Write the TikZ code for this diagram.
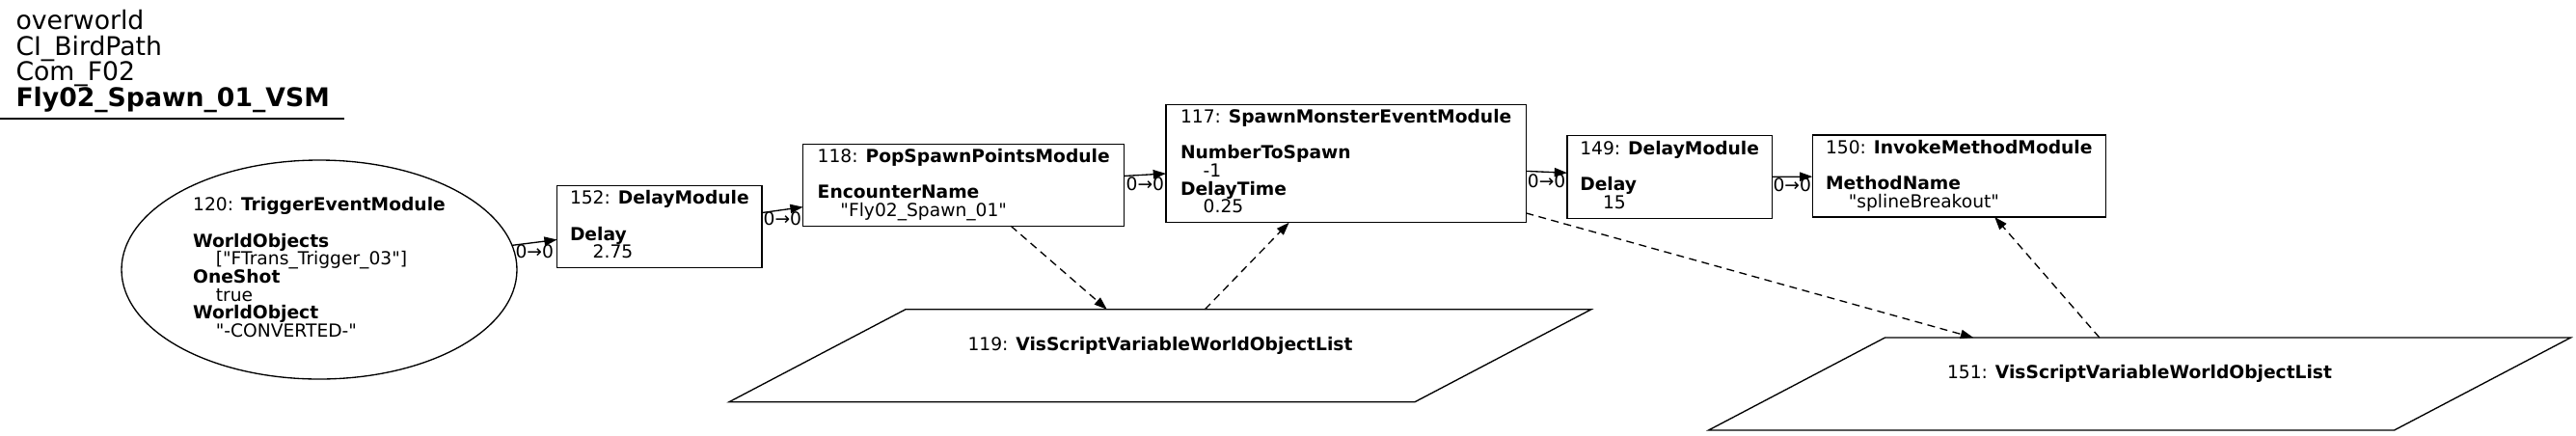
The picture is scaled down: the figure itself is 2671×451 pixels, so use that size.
\documentclass[tikz,border=0pt]{standalone}
\usepackage{fontspec}
\setmainfont{DejaVu Sans}
\usetikzlibrary{shapes.geometric,arrows.meta}
\newcommand\gs{\rule[-4.87pt]{0pt}{18.67pt}}
\newcommand\gtt{\rule[-7pt]{0pt}{26.67pt}}
\newcommand\ind{\hspace*{23.7pt}}
\newcommand\qq{\textquotedbl}
\lineskiplimit=-100pt\relax
\lineskip=0pt\relax
\begin{document}
\begin{tikzpicture}[x=1pt,y=1pt,
  every node/.style={inner sep=0pt, outer sep=0pt},
  txt/.style={font=\fontsize{18.67pt}{18.67pt}\selectfont, align=left},
  mod/.style={txt, draw, rectangle, line width=1.33pt},
  ell/.style={txt, draw, ellipse, line width=1.33pt},
  parbody/.style={txt, rectangle, minimum width=711pt, minimum height=96pt,
    text height=14pt, text depth=24.8pt},
  paredge/.style={line width=1.33pt, line join=miter},
  edge/.style={line width=1.33pt, -{Triangle[length=13.3pt,width=9.3pt]}},
  dedge/.style={edge, dash pattern=on 8pt off 5.5pt},
  lab/.style={txt, midway, yshift=-9pt}
]
\useasboundingbox (0,0) rectangle (2671,-451);

% title
\node[anchor=north west, align=left, font=\fontsize{26.67pt}{26.67pt}\selectfont] (title) at (16.5,-10.3)
  {\gtt overworld\\CI\_BirdPath\\Com\_F02\\\textbf{Fly02\_Spawn\_01\_VSM}};
\draw[line width=1.33pt] (0,-123) -- (357,-123);

% nodes
\node[ell, minimum width=410pt, minimum height=227pt] (n120) at (331,-279.5)
  {120: \textbf{TriggerEventModule}\gs\\\gs\\\textbf{WorldObjects}\gs\\\ind[\qq FTrans\_Trigger\_03\qq]\gs\\\textbf{OneShot}\gs\\\ind true\gs\\\textbf{WorldObject}\gs\\\ind\qq-CONVERTED-\qq\gs};

\node[mod, minimum width=212.3pt, minimum height=85pt] (n152) at (683.85,-235.2)
  {152: \textbf{DelayModule}\gs\\\gs\\\textbf{Delay}\gs\\\ind 2.75\gs};

\node[mod, minimum width=333.1pt, minimum height=85pt] (n118) at (999.25,-191.8)
  {118: \textbf{PopSpawnPointsModule}\gs\\\gs\\\textbf{EncounterName}\gs\\\ind\qq Fly02\_Spawn\_01\qq\gs};

\node[mod, minimum width=373.3pt, minimum height=122.4pt] (n117) at (1395.65,-169.5)
  {117: \textbf{SpawnMonsterEventModule}\gs\\\gs\\\textbf{NumberToSpawn}\gs\\\ind-1\gs\\\textbf{DelayTime}\gs\\\ind 0.25\gs};

\node[mod, minimum width=212.3pt, minimum height=86pt] (n149) at (1731.15,-183.7)
  {149: \textbf{DelayModule}\gs\\\gs\\\textbf{Delay}\gs\\\ind 15\gs};

\node[mod, minimum width=304pt, minimum height=85pt] (n150) at (2031.3,-182.5)
  {150: \textbf{InvokeMethodModule}\gs\\\gs\\\textbf{MethodName}\gs\\\ind\qq splineBreakout\qq\gs};

% parallelograms: body node + slanted outline
\node[parbody] (n119) at (1203,-368.7) {119: \textbf{VisScriptVariableWorldObjectList}};
\draw[paredge] ([xshift=91.5pt]n119.north west) -- ([xshift=91.5pt]n119.north east)
  -- ([xshift=-91.5pt]n119.south east) -- ([xshift=-91.5pt]n119.south west) -- cycle;

\node[parbody] (n151) at (2218.5,-398) {151: \textbf{VisScriptVariableWorldObjectList}};
\draw[paredge] ([xshift=91.5pt]n151.north west) -- ([xshift=91.5pt]n151.north east)
  -- ([xshift=-91.5pt]n151.south east) -- ([xshift=-91.5pt]n151.south west) -- cycle;

% connectors
\draw[edge] (n120) -- (n152) node[lab]{0→0};
\draw[edge] (n152) -- (n118) node[lab]{0→0};
\draw[edge] (n118) -- (n117) node[lab]{0→0};
\draw[edge] (n117) -- (n149) node[lab]{0→0};
\draw[edge] (n149) -- (n150) node[lab]{0→0};
\draw[dedge] (n118) -- (n119);
\draw[dedge] (n119) -- (n117);
\draw[dedge] (n117) -- (n151);
\draw[dedge] (n151) -- (n150);
\end{tikzpicture}
\end{document}
